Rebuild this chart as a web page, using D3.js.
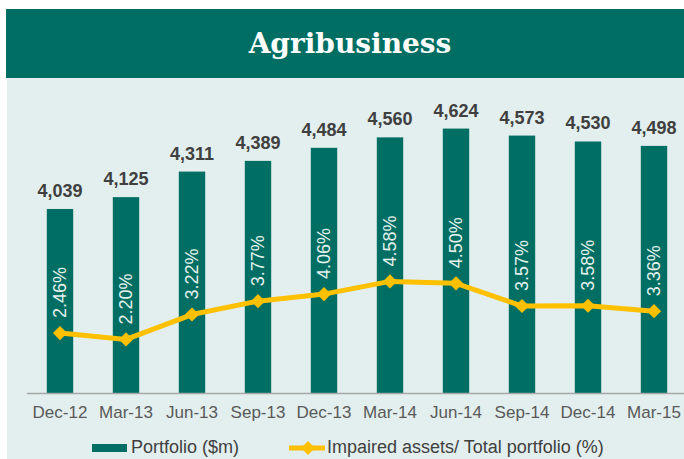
<!DOCTYPE html>
<meta charset="utf-8">
<style>
	body {
		margin: 0;
		background: #fff;
	}
	text {
		font-family: Arial, "Liberation Sans", sans-serif;
	}
</style>
<body>
<script src="https://d3js.org/d3.v7.min.js"></script>
<script>
	// quarters, portfolio ($m) and impaired ratio (%)
	var quarters = ["Dec-12", "Mar-13", "Jun-13", "Sep-13", "Dec-13", "Mar-14", "Jun-14", "Sep-14", "Dec-14", "Mar-15"];
	var portfolio = [4039, 4125, 4311, 4389, 4484, 4560, 4624, 4573, 4530, 4498];
	var impaired = [2.46, 2.20, 3.22, 3.77, 4.06, 4.58, 4.50, 3.57, 3.58, 3.36];

	var teal = "#006e62",
		gold = "#ffc000",
		width = 684,
		height = 459,
		baseY = 393,
		topY = 125;

	var svg = d3.select("body").append("svg")
		.attr("width", width)
		.attr("height", height);

	// panel + header band
	svg.append("rect")
		.attr("x", 7).attr("y", 78)
		.attr("width", width - 7).attr("height", 381)
		.attr("fill", "#e2efee");

	svg.append("rect")
		.attr("x", 6).attr("y", 9)
		.attr("width", width - 6).attr("height", 69)
		.attr("fill", teal);

	svg.append("text")
		.attr("x", 350)
		.attr("y", 53)
		.attr("text-anchor", "middle")
		.style("font-family", "'DejaVu Serif', serif")
		.style("font-weight", "bold")
		.style("font-size", "28px")
		.attr("fill", "#fff")
		.text("Agribusiness");

	var x = d3.scaleBand()
		.domain(quarters)
		.range([27, 687])
		.paddingInner(0.6)
		.paddingOuter(0.3);

	var y = d3.scaleLinear()
		.domain([2700, 4650])
		.range([baseY, topY]);

	var y2 = d3.scaleLinear()
		.domain([0, 11])
		.range([baseY, topY]);

	var data = quarters.map(function(q, i) {
		return { q: q, v: portfolio[i], p: impaired[i] };
	});

	svg.selectAll(".bar")
		.data(data)
		.enter().append("rect")
		.attr("class", "bar")
		.attr("x", function(d) { return x(d.q); })
		.attr("y", function(d) { return y(d.v); })
		.attr("width", x.bandwidth())
		.attr("height", function(d) { return baseY - y(d.v); })
		.attr("fill", teal);

	// baseline
	svg.append("line")
		.attr("x1", 27).attr("x2", width)
		.attr("y1", baseY + 0.5).attr("y2", baseY + 0.5)
		.attr("stroke", "#a6a6a6")
		.attr("stroke-width", 1.5);

	var xAxis = svg.append("g")
		.attr("transform", "translate(0," + baseY + ")")
		.call(d3.axisBottom(x).tickSize(0).tickPadding(0));
	xAxis.select(".domain").remove();
	xAxis.selectAll("text")
		.attr("y", 25)
		.attr("dy", 0)
		.style("font-size", "17px")
		.style("font-family", "Arial, 'Liberation Sans', sans-serif")
		.attr("fill", "#595959");

	// value labels
	svg.selectAll(".val")
		.data(data)
		.enter().append("text")
		.attr("class", "val")
		.attr("x", function(d) { return x(d.q) + x.bandwidth() / 2; })
		.attr("y", function(d) { return y(d.v) - 12; })
		.attr("text-anchor", "middle")
		.style("font-size", "18px")
		.style("font-weight", "bold")
		.attr("fill", "#404040")
		.text(function(d) { return d3.format(",")(d.v); });

	// impaired line
	var line = d3.line()
		.x(function(d) { return x(d.q) + x.bandwidth() / 2; })
		.y(function(d) { return y2(d.p); });

	svg.append("path")
		.datum(data)
		.attr("d", line)
		.attr("fill", "none")
		.attr("stroke", gold)
		.attr("stroke-width", 5)
		.attr("stroke-linejoin", "round");

	var diamond = d3.symbol().type(d3.symbolSquare).size(100);

	svg.selectAll(".pt")
		.data(data)
		.enter().append("path")
		.attr("class", "pt")
		.attr("d", diamond)
		.attr("transform", function(d) {
			return "translate(" + (x(d.q) + x.bandwidth() / 2) + "," + y2(d.p) + ") rotate(45)";
		})
		.attr("fill", gold);

	// rotated % labels (narrow like the original)
	svg.selectAll(".pct")
		.data(data)
		.enter().append("text")
		.attr("class", "pct")
		.attr("transform", function(d) {
			return "translate(" + (x(d.q) + x.bandwidth() / 2) + "," + (y2(d.p) - 15) + ") rotate(-90)";
		})
		.attr("dy", "0.36em")
		.style("font-size", "17.5px")
		.attr("fill", "#e6f2ee")
		.text(function(d) { return d.p.toFixed(2) + "%"; })
		.attr("lengthAdjust", "spacingAndGlyphs")
		.attr("textLength", 51);

	// legend
	var legend = svg.append("g");

	legend.append("rect")
		.attr("x", 92).attr("y", 444)
		.attr("width", 35).attr("height", 8)
		.attr("fill", teal);

	legend.append("text")
		.attr("x", 131).attr("y", 453)
		.style("font-size", "18px")
		.attr("fill", "#404040")
		.text("Portfolio ($m)");

	legend.append("line")
		.attr("x1", 289).attr("x2", 325)
		.attr("y1", 448).attr("y2", 448)
		.attr("stroke", gold)
		.attr("stroke-width", 5);

	legend.append("path")
		.attr("d", diamond)
		.attr("transform", "translate(308,448) rotate(45)")
		.attr("fill", gold);

	legend.append("text")
		.attr("x", 327).attr("y", 453)
		.style("font-size", "18px")
		.attr("fill", "#404040")
		.text("Impaired assets/ Total portfolio (%)");
</script>
</body>
